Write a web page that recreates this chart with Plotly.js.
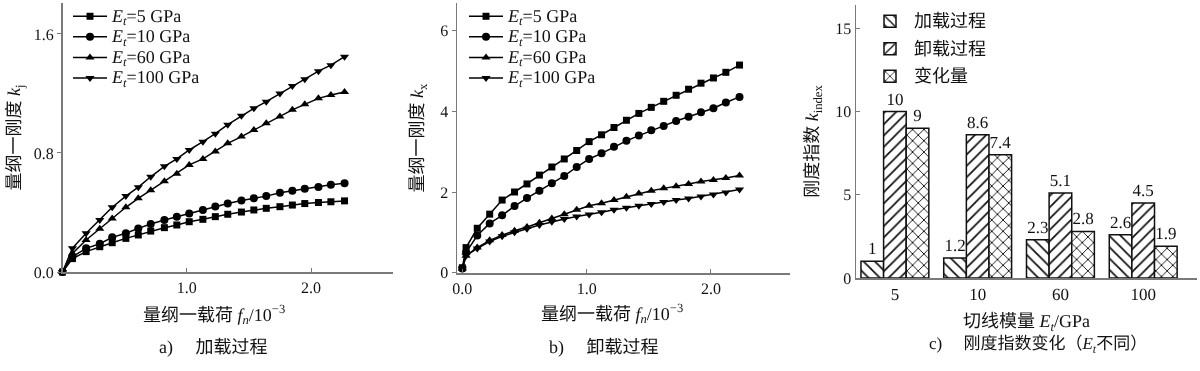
<!DOCTYPE html>
<html>
<head>
<meta charset="utf-8">
<script src="https://cdn.plot.ly/plotly-3.0.1.min.js"></script>
<style>html,body{margin:0;padding:0;background:#fff}#chart{width:1200px;height:371px;filter:grayscale(1)}
svg text{text-rendering:geometricPrecision}</style>
</head>
<body>
<div id="chart"></div>
<script>
// ---- Data ----
var seriesNames = ['<i>E</i><sub><i>t</i></sub>=5 GPa', '<i>E</i><sub><i>t</i></sub>=10 GPa', '<i>E</i><sub><i>t</i></sub>=60 GPa', '<i>E</i><sub><i>t</i></sub>=100 GPa'];

// a) loading: dimensionless load f_n (x10^-3) vs stiffness k_j
var loadA = [0, 0.08, 0.19, 0.30, 0.40, 0.51, 0.61, 0.71, 0.82, 0.92, 1.02, 1.13, 1.23, 1.33, 1.44, 1.54, 1.64, 1.75, 1.85, 1.95, 2.06, 2.16, 2.27];
var kjE5   = [0, 0.09, 0.137, 0.17, 0.197, 0.226, 0.249, 0.275, 0.298, 0.316, 0.338, 0.354, 0.372, 0.388, 0.403, 0.417, 0.428, 0.439, 0.45, 0.46, 0.467, 0.472, 0.478];
var kjE10  = [0, 0.103, 0.159, 0.19, 0.233, 0.26, 0.293, 0.323, 0.35, 0.372, 0.394, 0.417, 0.44, 0.46, 0.48, 0.495, 0.51, 0.533, 0.546, 0.56, 0.571, 0.587, 0.596];
var kjE60  = [0, 0.125, 0.215, 0.29, 0.36, 0.435, 0.495, 0.55, 0.61, 0.66, 0.72, 0.76, 0.81, 0.865, 0.91, 0.955, 1.0, 1.045, 1.09, 1.127, 1.167, 1.19, 1.21];
var kjE100 = [0, 0.16, 0.26, 0.35, 0.435, 0.51, 0.57, 0.64, 0.71, 0.76, 0.82, 0.876, 0.93, 0.99, 1.05, 1.10, 1.145, 1.20, 1.25, 1.295, 1.35, 1.39, 1.447];

// b) unloading: dimensionless load f_n (x10^-3) vs stiffness k_x
var loadB = [0, 0.03, 0.12, 0.22, 0.32, 0.42, 0.52, 0.62, 0.72, 0.82, 0.92, 1.02, 1.12, 1.22, 1.32, 1.42, 1.52, 1.62, 1.72, 1.82, 1.92, 2.02, 2.12, 2.23];
var kxE5   = [0.12, 0.62, 1.10, 1.45, 1.80, 2.00, 2.20, 2.42, 2.62, 2.82, 3.03, 3.25, 3.42, 3.60, 3.78, 3.95, 4.10, 4.25, 4.40, 4.55, 4.70, 4.83, 4.97, 5.15];
var kxE10  = [0.10, 0.50, 0.92, 1.22, 1.42, 1.65, 1.85, 2.03, 2.22, 2.40, 2.62, 2.82, 2.96, 3.12, 3.27, 3.40, 3.53, 3.64, 3.76, 3.87, 3.98, 4.08, 4.22, 4.36];
var kxE60  = [0.10, 0.42, 0.62, 0.80, 0.93, 1.04, 1.13, 1.24, 1.34, 1.45, 1.56, 1.66, 1.72, 1.80, 1.88, 1.96, 2.03, 2.09, 2.14, 2.20, 2.26, 2.30, 2.35, 2.41];
var kxE100 = [0.10, 0.42, 0.60, 0.77, 0.90, 1.00, 1.09, 1.18, 1.26, 1.33, 1.39, 1.44, 1.50, 1.56, 1.61, 1.66, 1.70, 1.75, 1.80, 1.84, 1.89, 1.94, 1.99, 2.06];

// c) stiffness index by tangent modulus
var modulusCats = ['5', '10', '60', '100'];
var barNames = ['加载过程', '卸载过程', '变化量'];
var idxLoading   = [1, 1.2, 2.3, 2.6];
var idxUnloading = [10, 8.6, 5.1, 4.5];
var idxChange    = [9, 7.4, 2.8, 1.9];

// tick labels
var tickA_y = [0, 0.8, 1.6], tickA_yText = ['0.0', '0.8', '1.6'];
var tickA_x = [1, 2], tickA_xText = ['1.0', '2.0'];
var tickB_y = [0, 2, 4, 6], tickB_yText = ['0', '2', '4', '6'];
var tickB_x = [0, 1, 2], tickB_xText = ['0.0', '1.0', '2.0'];
var tickC_y = [0, 5, 10, 15], tickC_yText = ['0', '5', '10', '15'];

// ---- Styles ----
var FONT = 'Liberation Serif, "Noto Sans CJK SC", serif';
var symbols = ['square', 'circle', 'triangle-up', 'triangle-down'];
var msizes = [7, 8, 8, 8];
var W = 1200, H = 371;
function px(x) { return x / W; }
function py(y) { return 1 - y / H; }
function big(s, sz) { return '<span style="font-size:' + sz + 'px">' + s + '</span>'; }

var traces = [];
var aY = [kjE5, kjE10, kjE60, kjE100];
var bY = [kxE5, kxE10, kxE60, kxE100];
for (var i = 0; i < 4; i++) {
  traces.push({
    x: loadA, y: aY[i], name: big(seriesNames[i], 18), type: 'scatter', mode: 'lines+markers',
    xaxis: 'x', yaxis: 'y', legend: 'legend',
    line: {color: '#000', width: 1.5},
    marker: {symbol: symbols[i], size: msizes[i], color: '#000'},
    cliponaxis: false
  });
}
for (var j = 0; j < 4; j++) {
  traces.push({
    x: loadB, y: bY[j], name: big(seriesNames[j], 18), type: 'scatter', mode: 'lines+markers',
    xaxis: 'x2', yaxis: 'y2', legend: 'legend2',
    line: {color: '#000', width: 1.5},
    marker: {symbol: symbols[j], size: msizes[j], color: '#000'},
    cliponaxis: false
  });
}
var barVals = [idxLoading, idxUnloading, idxChange];
var shapes = ['\\', '/', 'x'];
for (var k = 0; k < 3; k++) {
  traces.push({
    x: modulusCats, y: barVals[k], name: big(barNames[k], 18), type: 'bar',
    xaxis: 'x3', yaxis: 'y3', legend: 'legend3', legendgroup: 'g' + k,
    text: barVals[k].map(String), textposition: 'outside', constraintext: 'none',
    textfont: {family: FONT, size: 17, color: '#111'},
    cliponaxis: false,
    marker: {color: '#fff', line: {color: '#111', width: 1.5},
      pattern: {shape: shapes[k], fgcolor: '#111', bgcolor: '#fff', size: 8, solidity: 0.22}}
  });
}

var axisLine = {showline: true, linecolor: '#7a7a7a', linewidth: 1.5, showgrid: false, zeroline: false,
  ticks: 'inside', ticklen: 4, tickcolor: '#7a7a7a', tickfont: {family: FONT, size: 16, color: '#111'}};
function ax(o) { var r = {}; for (var p in axisLine) r[p] = axisLine[p]; for (var q in o) r[q] = o[q]; return r; }
var TF = {family: FONT, size: 18, color: '#111'};
var xTitleAB = '量纲一载荷 <i>f</i><sub><i>n</i></sub>/10<sup>−3</sup>';

var layout = {
  width: W, height: H,
  margin: {l: 0, r: 0, t: 0, b: 0},
  paper_bgcolor: '#fff', plot_bgcolor: 'rgba(0,0,0,0)',
  font: {family: FONT, size: 16, color: '#111'},
  showlegend: true,
  xaxis: ax({domain: [px(62.5), px(393)], range: [0, 2.66], tickvals: tickA_x, ticktext: tickA_xText, anchor: 'y'}),
  yaxis: ax({domain: [py(272), py(3)], range: [0, 1.808], tickvals: tickA_y, ticktext: tickA_yText, anchor: 'x', ticks: 'outside',
    title: {text: '量纲一刚度 <i>k</i><sub>j</sub>', font: TF, standoff: 8}}),
  xaxis2: ax({domain: [px(457), px(790)], range: [-0.043, 2.636], tickvals: tickB_x, ticktext: tickB_xText, anchor: 'y2'}),
  yaxis2: ax({domain: [py(273), py(3)], range: [-0.01, 6.69], tickvals: tickB_y, ticktext: tickB_yText, anchor: 'x2', ticks: 'outside',
    title: {text: '量纲一刚度 <i>k</i><sub>x</sub>', font: TF, standoff: 12}}),
  xaxis3: ax({domain: [px(856), px(1197)], type: 'category', range: [-0.47, 3.65], anchor: 'y3', ticks: '',
    tickfont: {family: FONT, size: 17, color: '#111'},
    title: {text: '切线模量 <i>E</i><sub><i>t</i></sub>/GPa', font: TF, standoff: 11}}),
  yaxis3: ax({domain: [py(278), py(5)], range: [0, 16.4], tickvals: tickC_y, ticktext: tickC_yText, anchor: 'x3',
    title: {text: '刚度指数 <i>k</i><sub>index</sub>', font: TF, standoff: 12}}),
  barmode: 'group', bargap: 0.18, bargroupgap: 0,
  legend: {x: px(68), y: py(1), xanchor: 'left', yanchor: 'top', bgcolor: 'rgba(0,0,0,0)', borderwidth: 0,
    font: {family: FONT, size: 13.5, color: '#111'}, itemwidth: 34, tracegroupgap: 0},
  legend2: {x: px(464), y: py(1), xanchor: 'left', yanchor: 'top', bgcolor: 'rgba(0,0,0,0)', borderwidth: 0,
    font: {family: FONT, size: 13.5, color: '#111'}, itemwidth: 34, tracegroupgap: 0},
  legend3: {x: px(866), y: py(5), xanchor: 'left', yanchor: 'top', bgcolor: 'rgba(0,0,0,0)', borderwidth: 0,
    font: {family: FONT, size: 15, color: '#111'}, itemwidth: 38, traceorder: 'grouped', tracegroupgap: 5},
  annotations: [
    {text: xTitleAB, x: px(214), y: py(314), xref: 'paper', yref: 'paper', showarrow: false, xanchor: 'center', yanchor: 'middle', font: TF},
    {text: xTitleAB, x: px(612), y: py(313), xref: 'paper', yref: 'paper', showarrow: false, xanchor: 'center', yanchor: 'middle', font: TF},
    {text: 'a)　 加载过程', x: px(213), y: py(347), xref: 'paper', yref: 'paper', showarrow: false, xanchor: 'center', yanchor: 'middle', font: TF},
    {text: 'b)　 卸载过程', x: px(604), y: py(347), xref: 'paper', yref: 'paper', showarrow: false, xanchor: 'center', yanchor: 'middle', font: TF},
    {text: 'c)　 刚度指数变化（<i>E</i><sub><i>t</i></sub>不同）', x: px(1038), y: py(345), xref: 'paper', yref: 'paper', showarrow: false, xanchor: 'center', yanchor: 'middle', font: {family: FONT, size: 17, color: '#111'}}
  ]
};

Plotly.newPlot('chart', traces, layout, {displayModeBar: false, staticPlot: true});
</script>
</body>
</html>
